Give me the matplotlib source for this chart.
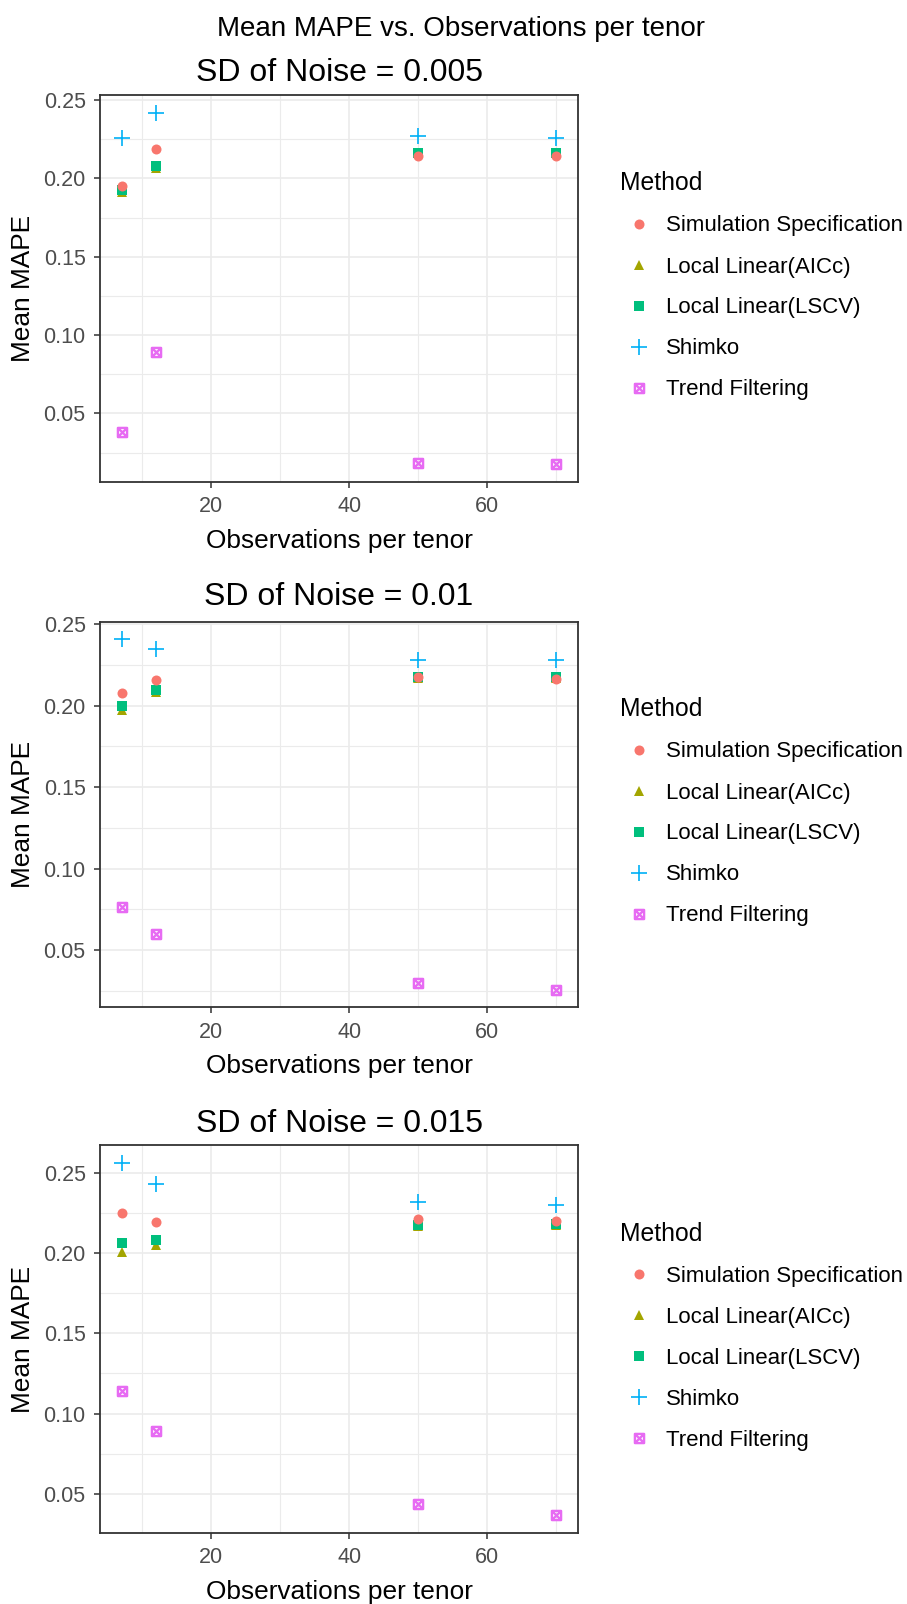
import matplotlib
matplotlib.use("Agg")
import matplotlib.pyplot as plt
import numpy as np
from matplotlib.path import Path
from matplotlib.ticker import MultipleLocator, FormatStrFormatter

plt.rcParams['font.family'] = ['Liberation Sans', 'DejaVu Sans']

# ---------------- data ----------------
obs_per_tenor = [7, 12, 50, 70]
methods = ["Simulation Specification", "Local Linear(AICc)", "Local Linear(LSCV)",
           "Shimko", "Trend Filtering"]
panel_titles = ["SD of Noise = 0.005", "SD of Noise = 0.01", "SD of Noise = 0.015"]

# SD of noise = 0.005
sim_005 = [0.1953, 0.2190, 0.2144, 0.2144]
aicc_005 = [0.1915, 0.2066, 0.2164, 0.2163]
lscv_005 = [0.1928, 0.2079, 0.2164, 0.2164]
shimko_005 = [0.2255, 0.2420, 0.2270, 0.2260]
tf_005 = [0.0381, 0.0891, 0.0185, 0.0174]

# SD of noise = 0.01
sim_010 = [0.2078, 0.2155, 0.2173, 0.2165]
aicc_010 = [0.1972, 0.2085, 0.2170, 0.2172]
lscv_010 = [0.2000, 0.2098, 0.2175, 0.2175]
shimko_010 = [0.2408, 0.2347, 0.2282, 0.2280]
tf_010 = [0.0766, 0.0601, 0.0301, 0.0256]

# SD of noise = 0.015
sim_015 = [0.2251, 0.2195, 0.2209, 0.2196]
aicc_015 = [0.2006, 0.2050, 0.2170, 0.2175]
lscv_015 = [0.2059, 0.2081, 0.2177, 0.2179]
shimko_015 = [0.2562, 0.2427, 0.2317, 0.2296]
tf_015 = [0.1139, 0.0894, 0.0436, 0.0367]

panels = [
    [sim_005, aicc_005, lscv_005, shimko_005, tf_005],
    [sim_010, aicc_010, lscv_010, shimko_010, tf_010],
    [sim_015, aicc_015, lscv_015, shimko_015, tf_015],
]

# ---------------- styling ----------------
colors = ["#F8766D", "#A3A500", "#00BF7D", "#00B0F6", "#E76BF3"]
sq_x = Path([(-1, -1), (1, -1), (1, 1), (-1, 1), (-1, -1),
             (-1, -1), (1, 1), (-1, 1), (1, -1)],
            [Path.MOVETO, Path.LINETO, Path.LINETO, Path.LINETO, Path.CLOSEPOLY,
             Path.MOVETO, Path.LINETO, Path.MOVETO, Path.LINETO])
marker_kw = [
    dict(marker='o', ms=7.2, mew=0),
    dict(marker='^', ms=7.6, mew=0),
    dict(marker='s', ms=7.2, mew=0),
    dict(marker='+', ms=12.0, mew=1.2),
    dict(marker=sq_x, ms=6.6, mew=1.7, mfc='none'),
]
zorders = [5, 3, 4, 6, 7]

W, H = 907, 1604
fig = plt.figure(figsize=(W / 100, H / 100), dpi=100)

# panel geometry in pixels: (left, right, top, bottom)
geoms = [(100, 578, 95, 482), (100, 578, 621.5, 1007.5), (100, 578, 1145, 1533)]
title_base = [81, 605, 1132]


def fy(py):
    return 1 - py / H


fig.text(461 / W, fy(36), "Mean MAPE vs. Observations per tenor", ha='center',
         va='baseline', fontsize=20, color='black')

for i, (series, (l, r, t, b)) in enumerate(zip(panels, geoms)):
    ax = fig.add_axes([l / W, fy(b), (r - l) / W, (b - t) / H])
    for s, (vals, name, c, mk, z) in enumerate(zip(series, methods, colors, marker_kw, zorders)):
        kw = dict(mk)
        if 'mfc' not in kw:
            kw['mfc'] = c
        ax.plot(obs_per_tenor, vals, ls='none', color=c, mec=c, label=name,
                zorder=z, **kw)
    allv = np.concatenate([np.asarray(v) for v in series])
    lo, hi = allv.min(), allv.max()
    pad = 0.05 * (hi - lo)
    ax.set_ylim(lo - pad, hi + pad)
    xr = max(obs_per_tenor) - min(obs_per_tenor)
    ax.set_xlim(min(obs_per_tenor) - 0.05 * xr, max(obs_per_tenor) + 0.05 * xr)

    ax.xaxis.set_major_locator(MultipleLocator(20))
    ax.xaxis.set_minor_locator(MultipleLocator(10))
    ax.yaxis.set_major_locator(MultipleLocator(0.05))
    ax.yaxis.set_minor_locator(MultipleLocator(0.025))
    ax.yaxis.set_major_formatter(FormatStrFormatter('%.2f'))
    ax.xaxis.set_major_formatter(FormatStrFormatter('%d'))

    ax.set_axisbelow(True)
    ax.grid(which='major', color='#EBEBEB', lw=1.2)
    ax.grid(which='minor', color='#EBEBEB', lw=0.8)
    for sp in ax.spines.values():
        sp.set_color('#333333')
        sp.set_linewidth(1.3)
    ax.tick_params(which='major', length=4.3, width=1.1, color='#333333',
                   labelcolor='#4D4D4D', labelsize=15.5, pad=6.0)
    ax.tick_params(which='minor', length=0)

    cx = (l + r) / 2
    cy = (t + b) / 2
    fig.text(cx / W, fy(title_base[i]), panel_titles[i], ha='center', va='baseline',
             fontsize=23, color='black')
    fig.text(cx / W, fy(b + 66), "Observations per tenor", ha='center',
             va='baseline', fontsize=18.9, color='black')
    fig.text(23 / W, fy(cy), "Mean MAPE", ha='center', va='center', rotation=90,
             fontsize=18.9, color='black')

    leg = ax.legend(loc='center left', bbox_to_anchor=(620 / W, fy(cy - 2.5)),
                    bbox_transform=fig.transFigure, frameon=False, numpoints=1,
                    title="Method", title_fontsize=17.8, fontsize=16,
                    borderpad=0, borderaxespad=0, handlelength=1.7,
                    handletextpad=0.36, labelspacing=0.9, alignment='left')

fig.savefig("out.png", dpi=100)
